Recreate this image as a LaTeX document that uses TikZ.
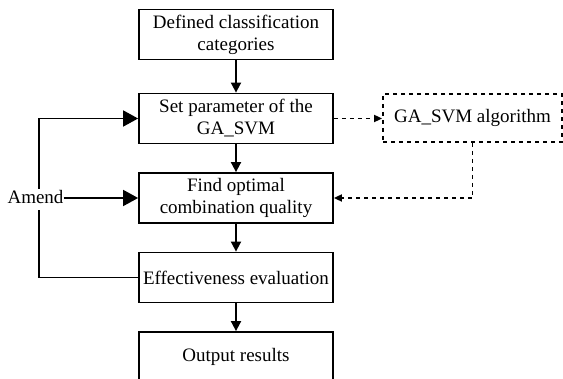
\documentclass[tikz,border=0pt]{standalone}
\usepackage{fontspec}
\setmainfont{Liberation Serif}
\usetikzlibrary{arrows.meta}
\begin{document}
\begin{tikzpicture}[x=1pt,y=-1pt,
  every node/.style={font=\fontsize{19}{22}\selectfont},
  box/.style={draw,line width=1.8pt,minimum width=194pt,minimum height=50pt,align=center,inner sep=2pt},
  gabox/.style={draw,line width=1.8pt,dash pattern=on 4pt off 4pt,minimum width=179pt,minimum height=48pt,inner sep=2pt},
  sline/.style={line width=1.8pt},
  dline/.style={line width=1.8pt,dash pattern=on 4pt off 4pt},
  bigtip/.style={-{Triangle[length=15pt,width=16pt]}},
  midtip/.style={-{Triangle[length=10pt,width=10pt]}},
  smalltip/.style={-{Triangle[length=8pt,width=7pt]}}]
\useasboundingbox (0,0) rectangle (563,379);
\node[box] (b1) at (236,34.5) {Defined classification\\categories};
\node[box] (b2) at (236,118.5) {Set parameter of the\\GA\_SVM};
\node[box] (b3) at (236,198) {Find optimal\\combination quality};
\node[box] (b4) at (236,277.5) {Effectiveness evaluation};
\node[box] (b5) at (236,357) {Output results};
\node[gabox] (ga) at (472.5,118) {GA\_SVM algorithm};
\node[anchor=base,inner xsep=0pt,inner ysep=2pt,text height=13pt,text depth=4pt] (amend) at (35.5,204) {Amend};
\coordinate (vx) at (39,0);
\draw[sline,midtip] (b1) -- (b2);
\draw[sline,midtip] (b2) -- (b3);
\draw[sline,midtip] (b3) -- (b4);
\draw[sline,midtip] (b4) -- (b5);
\draw[dline,smalltip] (b2.east) -- (b2.east -| ga.west);
\draw[dline,smalltip] (ga.south) |- (b3.east);
\draw[sline,bigtip] (amend.north -| vx) |- (b2.west);
\draw[sline] (amend.south -| vx) |- (b4.west);
\draw[sline,bigtip] (amend.east |- b3.west) -- (b3.west);
\end{tikzpicture}
\end{document}
